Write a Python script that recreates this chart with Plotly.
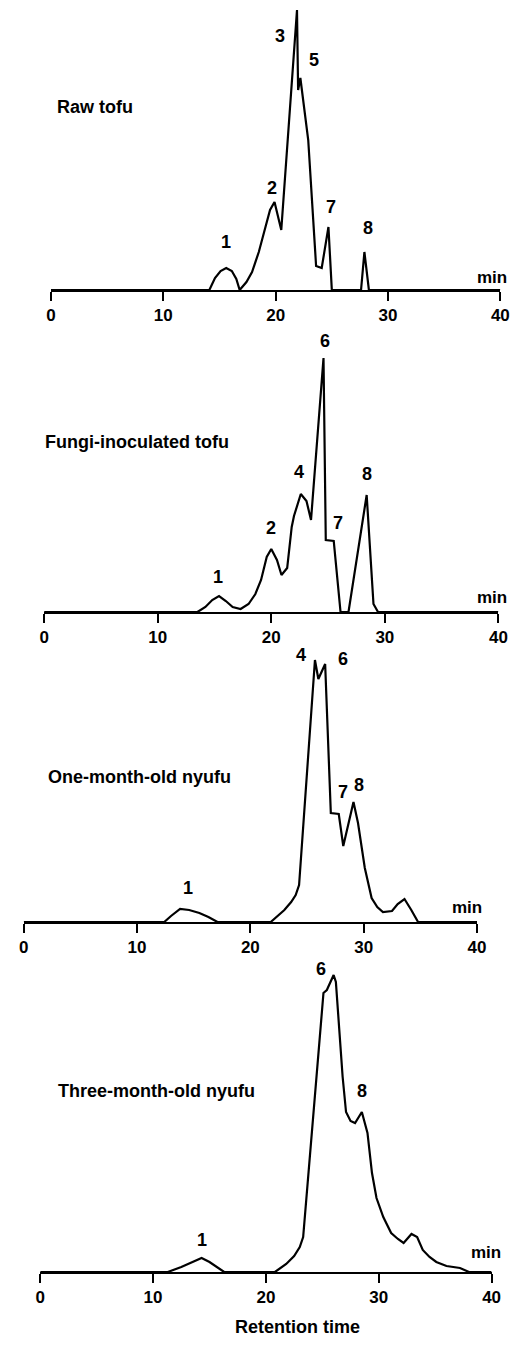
import plotly.graph_objects as go

# ---------------- data (retention time in min, detector response in arbitrary units) ----------------
raw_t = [0, 14.1, 14.6, 15.1, 15.6, 16.1, 16.5, 16.8, 17.4, 17.9, 18.5, 19.0, 19.5, 19.9, 20.5,
         21.9, 22.0, 22.2, 22.9, 23.6, 24.1, 24.7, 25.0, 27.6, 27.9, 28.3, 40]
raw_y = [0, 0, 12, 19, 22, 19, 11, 0, 8, 18, 38, 60, 80, 88, 60,
         280, 200, 212, 150, 24, 22, 63, 0, 0, 38, 0, 0]

fungi_t = [0, 13.5, 14.2, 14.8, 15.4, 16.0, 16.6, 17.3, 18.0, 18.6, 19.1, 19.6, 20.0, 20.5, 20.9,
           21.4, 21.8, 22.0, 22.6, 23.1, 23.5, 24.6, 24.8, 25.5, 26.1, 26.8, 28.4, 29.0, 29.4, 40]
fungi_y = [0, 0, 5, 12, 16, 11, 5, 3, 8, 18, 32, 55, 63, 52, 37,
           44, 85, 96, 118, 111, 92, 254, 72, 71, 0, 0, 117, 8, 0, 0]

one_t = [0, 12.4, 13.0, 13.8, 14.6, 15.5, 16.3, 17.1, 21.8, 23.0, 23.6, 24.0, 24.3, 25.7, 26.0,
         26.6, 27.1, 27.8, 28.2, 29.1, 29.5, 30.1, 30.7, 31.2, 31.7, 32.5, 33.0, 33.6, 34.2, 34.8, 40]
one_y = [0, 0, 6, 13, 12, 9, 5, 0, 0, 12, 20, 27, 37, 262, 243,
         258, 109, 108, 76, 120, 99, 54, 24, 15, 10, 11, 18, 23, 12, 0, 0]

three_t = [0, 11.3, 12.5, 13.5, 14.3, 15.0, 15.7, 16.3, 20.8, 21.8, 22.5, 23.0, 23.3, 25.1, 25.4,
           26.0, 26.2, 26.8, 27.1, 27.5, 27.9, 28.2, 28.5, 29.0, 29.4, 29.8, 30.4, 31.1, 31.7,
           32.2, 32.9, 33.4, 33.9, 34.5, 35.1, 36.0, 37.2, 38.0, 40]
three_y = [0, 0, 5, 10, 14, 10, 5, 0, 0, 8, 16, 25, 35, 279, 282,
           297, 290, 195, 160, 151, 149, 155, 160, 139, 99, 74, 55, 39, 33,
           29, 38, 35, 22, 15, 10, 6, 4, 0, 0]

sample_names = ["Raw tofu", "Fungi-inoculated tofu", "One-month-old nyufu", "Three-month-old nyufu"]

# peak labels: number, time, response position of label
raw_lab = ["1", "2", "3", "5", "7", "8"]
raw_lab_t = [15.6, 19.7, 20.4, 23.4, 24.9, 28.2]
raw_lab_y = [48, 102, 254, 230, 83, 62]

fungi_lab = ["1", "2", "4", "6", "7", "8"]
fungi_lab_t = [15.3, 19.95, 22.4, 24.7, 25.9, 28.4]
fungi_lab_y = [35, 84, 140, 271, 89, 138]

one_lab = ["1", "4", "6", "7", "8"]
one_lab_t = [14.5, 24.5, 28.2, 28.2, 29.6]
one_lab_y = [34, 267, 263, 130, 137]

three_lab = ["1", "6", "8"]
three_lab_t = [14.3, 24.9, 28.5]
three_lab_y = [32, 303, 181]

x_ticks = [0, 10, 20, 30, 40]

# ---------------- layout geometry ----------------
PAGE_W, PAGE_H = 530, 1345
OFF = 8                      # default body margin of the html page
W, H = PAGE_W - 2 * OFF, PAGE_H - 2 * OFF
FONT = "Arial, Liberation Sans, sans-serif"


def px_x(v):
    return (v - OFF) / W


def px_y(v):
    return 1 - (v - OFF) / H


panels = [
    dict(t=raw_t, y=raw_y, lab=raw_lab, lt=raw_lab_t, ly=raw_lab_y, name=sample_names[0],
         x0=47, x1=509, base=290, top=0, name_px=(52, 107), min_xy=(39.3, 13)),
    dict(t=fungi_t, y=fungi_y, lab=fungi_lab, lt=fungi_lab_t, ly=fungi_lab_y, name=sample_names[1],
         x0=40, x1=507, base=612, top=322, name_px=(40, 442), min_xy=(39.4, 15)),
    dict(t=one_t, y=one_y, lab=one_lab, lt=one_lab_t, ly=one_lab_y, name=sample_names[2],
         x0=19, x1=485, base=922, top=632, name_px=(43, 777), min_xy=(39.1, 15)),
    dict(t=three_t, y=three_y, lab=three_lab, lt=three_lab_t, ly=three_lab_y, name=sample_names[3],
         x0=36, x1=500, base=1272, top=955, name_px=(53, 1091), min_xy=(39.5, 20)),
]

fig = go.Figure()
annotations = []
layout_axes = {}

for i, p in enumerate(panels):
    k = "" if i == 0 else str(i + 1)
    xa, ya = "x" + k, "y" + k
    fig.add_trace(go.Scatter(x=p["t"], y=p["y"], mode="lines",
                             line=dict(color="black", width=2.2), xaxis=xa, yaxis=ya,
                             showlegend=False, hoverinfo="skip"))
    top = max(p["top"], OFF)
    yrange = p["base"] - top
    layout_axes["xaxis" + k] = dict(
        domain=[px_x(p["x0"]), px_x(p["x1"])], range=[0, 40], anchor=ya,
        showline=True, linecolor="black", linewidth=1.6, showgrid=False, zeroline=False,
        ticks="outside", ticklen=9, tickwidth=1.6, tickcolor="black",
        tickvals=x_ticks, ticktext=["<b>%d</b>" % v for v in x_ticks],
        tickfont=dict(family=FONT, size=17, color="black"), fixedrange=True)
    layout_axes["yaxis" + k] = dict(
        domain=[px_y(p["base"]), px_y(top)], range=[0, yrange], anchor=xa,
        visible=False, fixedrange=True)
    for txt, tx, ty in zip(p["lab"], p["lt"], p["ly"]):
        annotations.append(dict(x=tx, y=ty, xref=xa, yref=ya, text="<b>" + txt + "</b>",
                                showarrow=False,
                                font=dict(family=FONT, size=18, color="black"),
                                xanchor="center", yanchor="middle"))
    annotations.append(dict(x=p["min_xy"][0], y=p["min_xy"][1], xref=xa, yref=ya, text="<b>min</b>",
                            showarrow=False, font=dict(family=FONT, size=17, color="black"),
                            xanchor="center", yanchor="middle"))
    annotations.append(dict(x=px_x(p["name_px"][0]), y=px_y(p["name_px"][1]), xref="paper", yref="paper",
                            text="<b>" + p["name"] + "</b>", showarrow=False,
                            font=dict(family=FONT, size=18, color="black"),
                            xanchor="left", yanchor="middle", borderpad=0))

annotations.append(dict(x=px_x(300), y=px_y(1327), xref="paper", yref="paper",
                        text="<b>Retention time</b>", showarrow=False,
                        font=dict(family=FONT, size=18, color="black"),
                        xanchor="center", yanchor="middle"))

fig.update_layout(width=W, height=H, margin=dict(l=0, r=0, t=0, b=0),
                  paper_bgcolor="white", plot_bgcolor="white",
                  annotations=annotations, **layout_axes)

fig.write_html("out.html", config={"displayModeBar": False})
